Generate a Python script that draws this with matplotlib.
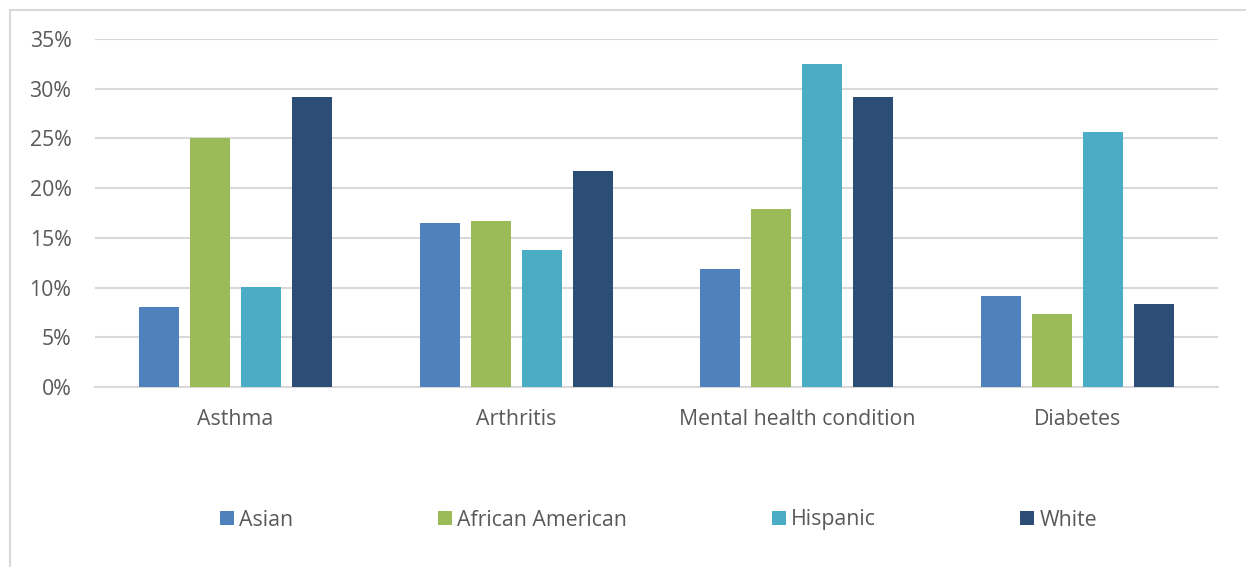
import numpy as np
import matplotlib.pyplot as plt
from matplotlib.patches import Rectangle
from matplotlib.ticker import PercentFormatter

conditions = ["Asthma", "Arthritis", "Mental health condition", "Diabetes"]
groups = ["Asian", "African American", "Hispanic", "White"]
asian = [8.0, 16.5, 11.9, 9.2]
african_american = [25.0, 16.7, 17.9, 7.3]
hispanic = [10.1, 13.8, 32.5, 25.6]
white = [29.2, 21.7, 29.2, 8.3]
colors = ["#4F81BD", "#9BBB59", "#4BACC6", "#2C4D75"]

plt.rcParams['font.family'] = ['Open Sans', 'DejaVu Sans']
text_color = "#595959"
grid_color = "#D9D9D9"
fs = 15.3

fig = plt.figure(figsize=(12.46, 5.67), dpi=100)
ax = fig.add_axes([95 / 1246, 1 - 387 / 567, 1123 / 1246, 348 / 567])

x = np.arange(len(conditions))
cat_px = 1123 / 4
width = 40 / cat_px
step = 51 / cat_px
series = [asian, african_american, hispanic, white]
for i, (name, vals) in enumerate(zip(groups, series)):
    ax.bar(x + (i - 1.5) * step, vals, width, color=colors[i], label=name, zorder=3)

ax.set_xlim(-0.5, len(conditions) - 0.5)
ax.set_ylim(0, 35)
ax.set_yticks(np.arange(0, 36, 5))
ax.yaxis.set_major_formatter(PercentFormatter(decimals=0))
ax.set_xticks(x)
ax.set_xticklabels(conditions)
ax.grid(axis='y', color=grid_color, linewidth=1.5, zorder=0)
for side in ['left', 'right', 'top']:
    ax.spines[side].set_visible(False)
ax.spines['bottom'].set_color(grid_color)
ax.spines['bottom'].set_linewidth(1.5)
ax.tick_params(axis='both', length=0, labelsize=fs, colors=text_color)
ax.tick_params(axis='x', pad=16)
ax.tick_params(axis='y', pad=17)

leg = fig.legend(loc='center', bbox_to_anchor=(0.5285, 1 - 520 / 567), ncol=4,
                 frameon=False, fontsize=fs, handlelength=0.66, handleheight=0.66,
                 handletextpad=0.25, columnspacing=6.8)
for t in leg.get_texts():
    t.set_color(text_color)

# outer chart border
fig.patches.append(Rectangle((9.5 / 1246, -0.1), 1.2, 1.1 - 9.5 / 567,
                             transform=fig.transFigure, fill=False,
                             edgecolor=grid_color, linewidth=1.5))

fig.savefig("out.png", dpi=100)
